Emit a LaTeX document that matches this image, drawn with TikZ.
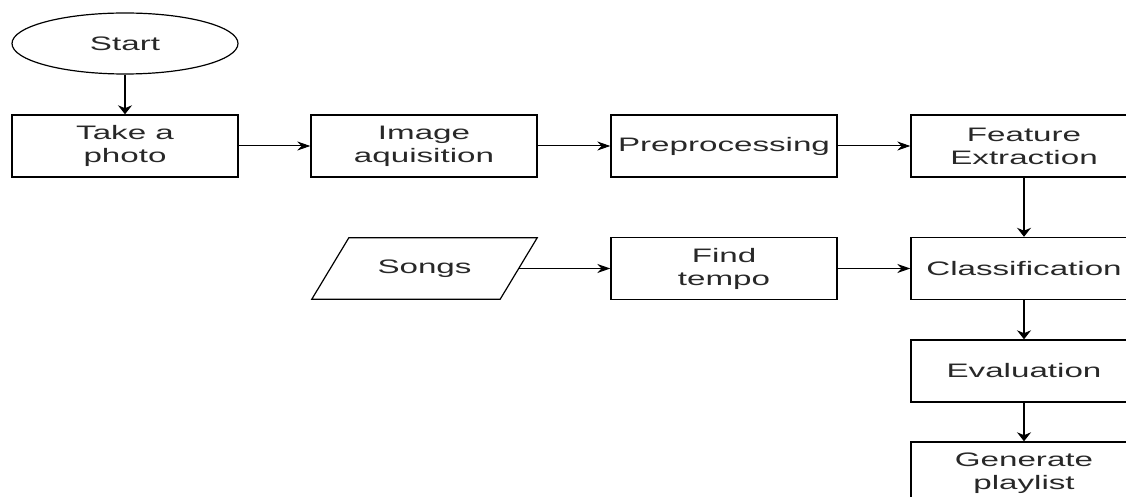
\documentclass[tikz,border=0pt]{standalone}
\usepackage{fontspec}
\setmainfont{Liberation Sans}
\newfontfamily\boxfont[FakeStretch=1.7]{Liberation Sans}
\usetikzlibrary{shapes.geometric, arrows.meta, positioning}
\definecolor{myinkgray}{RGB}{40,40,40}
\tikzstyle{process}=[draw, rectangle, line width=1.4pt, minimum width=226pt,
minimum height=62pt, inner sep=0pt, align=center]
\tikzstyle{terminal}=[draw, ellipse, line width=1.2pt, minimum width=226pt,
minimum height=61pt, inner sep=0pt]
\tikzstyle{inputbox}=[rectangle, minimum width=225pt, minimum height=61pt,
inner sep=0pt]
\tikzstyle{hflow}=[line width=1pt, -{Stealth[length=13pt,width=9pt]}]
\tikzstyle{vflow}=[line width=1.2pt, -{Stealth[length=9pt,width=14pt]}]

\begin{document}
\begin{tikzpicture}[x=1pt, y=-1pt,
font={\boxfont\fontsize{19.5pt}{23pt}\selectfont}, text=myinkgray]
\useasboundingbox (0, 0) rectangle (1126, 497);
\clip (0, 0) rectangle (1126, 497);
\draw (125, 43.5) node [terminal] (start) {Start};
\draw (125, 146) node [process] (photo) {Take a\\photo};
\draw (424, 146) node [process] (acq) {Image\\aquisition};
\draw (724, 146) node [process] (pre) {Preprocessing};
\draw (1024, 146) node [process] (feat) {Feature\\Extraction};
\draw (424.5, 268.5) node [inputbox] (songs) {Songs};
\draw (724, 268.5) node [process] (tempo) {Find\\tempo};
\draw (1024, 268.5) node [process] (cls) {Classification};
\draw (1024, 371) node [process] (eval) {Evaluation};
\draw (1024, 473) node [process] (gen) {Generate\\playlist};
% slanted outline of the songs input
\draw [line width=1.2pt] ([xshift=37pt]songs.north west) -- (songs.north east)
  -- ([xshift=-37pt]songs.south east) -- (songs.south west) -- cycle;
\coordinate (songsout) at ([xshift=-18.5pt]songs.east);
\draw [vflow] (start) -- (photo);
\draw [hflow] (photo) -- (acq);
\draw [hflow] (acq) -- (pre);
\draw [hflow] (pre) -- (feat);
\draw [vflow] (feat) -- (cls);
\draw [hflow] (songsout) -- (tempo);
\draw [hflow] (tempo) -- (cls);
\draw [vflow] (cls) -- (eval);
\draw [vflow] (eval) -- (gen);
\end{tikzpicture}
\end{document}
